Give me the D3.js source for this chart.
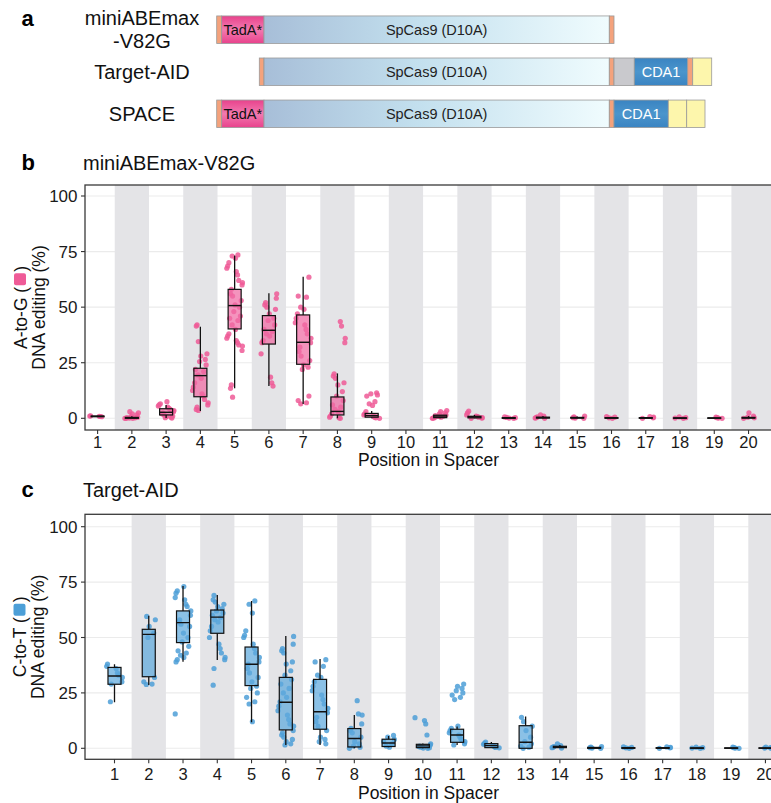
<!DOCTYPE html>
<html><head><meta charset="utf-8">
<script src="https://cdn.jsdelivr.net/npm/d3@7"></script>
<style>
body{margin:0;background:#fff}
svg{display:block}
text{font-family:"Liberation Sans",Arial,Helvetica,sans-serif}
</style>
</head><body>
<svg id="chart" width="771" height="803"></svg>
<script>
// ---------------- DATA ----------------
const positions = d3.range(1, 21);
const yTickValues = [0, 25, 50, 75, 100];
const xTickLabels = positions.map(String);

// panel a: constructs and domain segments [type, label, length]
const constructNames = ["miniABEmax\n-V82G", "Target-AID", "SPACE"];
const constructSegments = [
  [["nls","",5],["tada","TadA*",42.3],["cas9","SpCas9 (D10A)",345.3],["nls","",4.7]],
  [["none","",42.6],["nls","",4.7],["cas9","SpCas9 (D10A)",345.3],["nls","",4.7],["linker","",20.3],["cda1","CDA1",53.4],["nls","",5],["ugi","",19]],
  [["nls","",5],["tada","TadA*",42.3],["cas9","SpCas9 (D10A)",345.3],["nls","",4.7],["cda1","CDA1",54.3],["ugi","",18.4],["ugi","",18.3]]
];

// panel b: A-to-G editing, miniABEmax-V82G
const abePoints = [
  [1.1,1.0,0.9,0.8,0.7],
  [3.0,2.5,2.0,1.5,0.8,0.5,0.3,0.2,0.1,0,0,0],
  [7.5,6.5,6,5.5,5,4.5,4,3.5,3,2.5,2,1.5,1,0.8,0.5,0.3,0.1],
  [42,41.5,34.5,29,28,26.5,25.5,24,22,21,19.5,18,16,14,12.5,11,10,8.5,7,6,5,4,3.5],
  [73.5,73,72,70,68.5,67.5,66,64.5,62,61,60,58,56,55,53,51,50,48,46,45,44,42,40,38,37,36,35,34,33,32.5,30.5,15,13.5,9.5],
  [56,54,52,51,50,49,47,45,44,42,40,39,38,37,35,34,29,18.5,16,14.5],
  [63.5,55,54.5,50,49,47,45,43,42,40,38,36,34,32,30,28,26,24,23,22,10,8,7,6.5],
  [43.5,41.5,36,34,20,19,18,16,15,12,10,8,6,5,4,3,2,1,0.5,0.2,0],
  [11.5,11,10.5,10,7.5,6.5,5.8,3,2,1.5,1,0.5,0.2,0],
  [],
  [3.5,3,2.5,2,1.5,1.2,1,0.8,0.5,0.3,0.1,0],
  [3.2,2.4,1.5,1,0.8,0.5,0.3,0.1,0],
  [0.6,0.4,0.3,0.1,0],
  [1.5,1,0.6,0.3,0.1,0],
  [1.0,0.6,0.3,0.1,0],
  [0.8,0.5,0.2,0],
  [0.8,0.5,0.2,0],
  [0.6,0.3,0.1,0],
  [0.5,0.3,0.1,0],
  [2.5,1.0,0.5,0.2,0]
];
const abeQ1  = [0.7,0,  1.5,9.7, 40.2,33.4,24.3,1.5,0.5,null,0.3,0.2,0,  0.1,0.1,0,  0,  0,  0,  0.1];
const abeMed = [0.9,0.2,2.7,19.2,50.7,39.6,34.2,3.1,1.2,null,1.0,0.6,0.1,0.3,0.2,0.2,0.2,0.1,0.1,0.2];
const abeQ3  = [1.0,0.4,4.3,22.5,58.0,46.2,46.5,9.6,2.2,null,1.4,0.9,0.3,0.5,0.4,0.3,0.3,0.2,0.2,0.4];
const abeLo  = [0.7,0,  0.1,3.3, 13.5,14.5,6.4, 0,  0,  null,0,  0,  0,  0,  0,  0,  0,  0,  0,  0];
const abeHi  = [1.1,0.9,6.0,41.2,73.2,56.2,63.7,20.2,3.3,null,1.5,1.5,0.6,1.0,0.8,0.5,0.5,0.4,0.4,1.0];

// panel c: C-to-T editing, Target-AID
const aidPoints = [
  [38,37,36,34,33,32,30,29,21],
  [59.5,58,55,52,50,32,30,29,28.8],
  [73,71,70,68,67,65,64,62,60,58,57,56,55,52,50,48,46,44,43,42,41,40,39,15.5],
  [69,67,66,65,64,63,62,61,60,59,58,57,55,53,50,47,45,43,41,40,36,28.5],
  [66.5,65,61,53,51,50,47,45,43,41,39,38,36,34,32,30,28,27,25,23,21,20,12],
  [50.5,47,45,44,43,39,38,35,33,31,29,27,25,23,21,19,17,15,13,11,10,8,7,6,5,4,3,2,1.5],
  [40,39,37,33,32,30,28,26,24,22,20,18,16,14,12,10,8,5,4,3,2],
  [21.5,15.5,15,11,9,8,7,5,3,2,1,0.5,0],
  [5.8,5,4,3,2,1,0.5],
  [13.8,12.5,11,6,2,1.5,1,0.8,0.5,0.3,0.1,0],
  [29,28,27,26,25,24,23,22,10,9,8,7,6,5,4,3,2,1.5],
  [2.8,2.2,1.8,1.2,0.8,0.4,0.2],
  [14,12,10,8,5,3,2,1,0.5,0],
  [2,1.2,0.8,0.5,0.3,0.1],
  [0.8,0.5,0.3,0.1,0],
  [0.6,0.4,0.2,0],
  [0.6,0.4,0.2,0],
  [0.5,0.3,0.1,0],
  [0.5,0.3,0.1,0],
  [0.5,0.3,0.1,0]
];
const aidQ1  = [28.9,32.3,47.7,51.9,28.3,8.3, 8.6, 0.6,0.8,0.3,2.7,0.3,0,   0.3,0,  0,  0,  0,  0,  0];
const aidMed = [32.6,51.4,56.7,59.2,37.9,20.8,16.5,4.4,2.4,1.1,6.0,1.2,2.7, 0.6,0.2,0.1,0.1,0.1,0.1,0.1];
const aidQ3  = [36.5,53.7,62.0,62.4,45.7,32.0,31.1,8.9,4.1,1.8,8.6,2.1,10.2,0.9,0.4,0.3,0.3,0.2,0.2,0.2];
const aidLo  = [20.8,28.6,39.1,39.8,11.7,1.5, 1.5, 0,  0.5,0,  1.5,0.2,0,   0.1,0,  0,  0,  0,  0,  0];
const aidHi  = [37.9,59.8,73.2,69.2,66.5,50.7,40.3,15.0,5.5,2.2,9.8,2.8,14.3,1.5,0.6,0.5,0.5,0.4,0.4,0.4];

// ---------------- STYLE ----------------
const FONT = '"Liberation Sans",Arial,Helvetica,sans-serif';
const svg = d3.select("#chart");
const defs = svg.append("defs");

// gradients for panel a
const gCas = defs.append("linearGradient").attr("id","gcas").attr("x1","0").attr("x2","1").attr("y1","0").attr("y2","0");
gCas.append("stop").attr("offset","0").attr("stop-color","#a7bed8");
gCas.append("stop").attr("offset","0.45").attr("stop-color","#c3e0ee");
gCas.append("stop").attr("offset","1").attr("stop-color","#f0fcfe");
const gTad = defs.append("linearGradient").attr("id","gtad").attr("x1","0").attr("x2","0").attr("y1","0").attr("y2","1");
gTad.append("stop").attr("offset","0").attr("stop-color","#e8428c");
gTad.append("stop").attr("offset","0.5").attr("stop-color","#f27ab0");
gTad.append("stop").attr("offset","1").attr("stop-color","#e8428c");
const gCda = defs.append("linearGradient").attr("id","gcda").attr("x1","0").attr("x2","0").attr("y1","0").attr("y2","1");
gCda.append("stop").attr("offset","0").attr("stop-color","#3a84c2");
gCda.append("stop").attr("offset","0.5").attr("stop-color","#4b95cc");
gCda.append("stop").attr("offset","1").attr("stop-color","#3a84c2");

const segFill = {nls:"#f4a27c", tada:"url(#gtad)", cas9:"url(#gcas)", linker:"#c9c9cd", cda1:"url(#gcda)", ugi:"#fdf6ac"};
const segText = {tada:"#111", cas9:"#222", cda1:"#fff"};

// ---------------- PANEL A ----------------
const segX = d3.scaleLinear().domain([0, 500]).range([216.7, 716.7]);
const rowY = d3.scalePoint().domain(constructNames).range([29.7, 113.8]);
const barH = 27.5;

svg.append("text").attr("x",21.5).attr("y",26).attr("font-size",22).attr("font-weight","bold").attr("font-family",FONT).text("a");

constructNames.forEach((name, i) => {
  const cy = rowY(name);
  const lines = name.split("\n");
  const lab = svg.append("text").attr("text-anchor","middle").attr("font-size",20).attr("fill","#111").attr("font-family",FONT);
  if (lines.length === 1) {
    lab.attr("x",142).attr("y",cy + 7).text(lines[0]);
  } else {
    lab.append("tspan").attr("x",142).attr("y",cy - 4.7).text(lines[0]);
    lab.append("tspan").attr("x",142).attr("y",cy + 18.6).text(lines[1]);
  }
  let acc = 0;
  const g = svg.append("g");
  constructSegments[i].forEach(seg => {
    const [type, label, len] = seg;
    const x0 = segX(acc), x1 = segX(acc + len);
    acc += len;
    if (type === "none") return;
    g.append("rect").attr("x",x0).attr("y",cy - barH/2).attr("width",x1 - x0).attr("height",barH)
      .attr("fill",segFill[type]).attr("stroke","#9a9a9a").attr("stroke-width",0.8);
    if (label) {
      g.append("text").attr("x",(x0 + x1)/2).attr("y",cy + 5.2).attr("text-anchor","middle")
        .attr("font-size",14.5).attr("fill",segText[type]).attr("font-family",FONT).text(label);
    }
  });
});

// ---------------- BOX PANELS ----------------
const jitterPattern = [-0.85,0.35,0.9,-0.25,0.6,-0.6,0.1,-0.95,0.5,-0.4,0.8,-0.1,0.4,-0.7,0.2,0.95,-0.5,0.05,0.7,-0.3];

function drawPanel(cfg) {
  const left = 85, right = 790;
  const top = cfg.top, bottom = cfg.bottom;
  const x = d3.scaleLinear().domain([1, 20]).range([cfg.pos1, cfg.pos1 + 19 * 34.26]);
  const y = d3.scaleLinear().domain([0, 100]).range([cfg.y0, cfg.y100]);
  const unit = x(2) - x(1);
  const clipId = "clip" + cfg.id;
  defs.append("clipPath").attr("id", clipId).append("rect")
    .attr("x",left).attr("y",top).attr("width",right - left).attr("height",bottom - top);

  // title
  svg.append("text").attr("x",21.5).attr("y",cfg.titleY).attr("font-size",22).attr("font-weight","bold").attr("font-family",FONT).text(cfg.letter);
  svg.append("text").attr("x",83).attr("y",cfg.titleY).attr("font-size",20).attr("fill","#111").attr("font-family",FONT).text(cfg.title);

  const pg = svg.append("g").attr("clip-path",`url(#${clipId})`);
  pg.append("rect").attr("x",left).attr("y",top).attr("width",right-left).attr("height",bottom-top).attr("fill","#fff");
  // grid
  pg.selectAll("line.grid").data(yTickValues).enter().append("line")
    .attr("x1",left).attr("x2",right).attr("y1",d=>y(d)).attr("y2",d=>y(d))
    .attr("stroke","#ebebeb").attr("stroke-width",1.1);
  // stripes
  pg.selectAll("rect.band").data(positions.filter(p => p % 2 === 0)).enter().append("rect")
    .attr("x",d=>x(d - 0.5))
    .attr("width",d=> d === 20 ? right - x(d - 0.5) : x(d + 0.5) - x(d - 0.5))
    .attr("y",top).attr("height",bottom - top).attr("fill","#e4e4e7");

  // points
  positions.forEach((p, i) => {
    pg.selectAll(null).data(cfg.points[i]).enter().append("circle")
      .attr("cx",(d,j) => x(p + jitterPattern[(j * 7 + i * 3) % jitterPattern.length] * 0.24))
      .attr("cy",d => y(d)).attr("r",2.6)
      .attr("fill",cfg.pointColor).attr("fill-opacity",0.85);
  });
  // boxes
  const bw = 0.38 * unit;
  positions.forEach((p, i) => {
    if (cfg.q1[i] === null) return;
    const cx = x(p);
    pg.append("line").attr("x1",cx).attr("x2",cx).attr("y1",y(cfg.q3[i])).attr("y2",y(cfg.hi[i])).attr("stroke","#111").attr("stroke-width",1.3);
    pg.append("line").attr("x1",cx).attr("x2",cx).attr("y1",y(cfg.q1[i])).attr("y2",y(cfg.lo[i])).attr("stroke","#111").attr("stroke-width",1.3);
    pg.append("rect").attr("x",cx - bw/2).attr("width",bw)
      .attr("y",y(cfg.q3[i])).attr("height",Math.max(0.01, y(cfg.q1[i]) - y(cfg.q3[i])))
      .attr("fill",cfg.boxColor).attr("fill-opacity",0.72).attr("stroke","#111").attr("stroke-width",1.2);
    pg.append("line").attr("x1",cx - bw/2).attr("x2",cx + bw/2).attr("y1",y(cfg.med[i])).attr("y2",y(cfg.med[i])).attr("stroke","#111").attr("stroke-width",1.4);
  });

  // border
  svg.append("rect").attr("x",left).attr("y",top).attr("width",right - left).attr("height",bottom - top)
    .attr("fill","none").attr("stroke","#3a3a3a").attr("stroke-width",1.3);

  // y axis
  yTickValues.forEach(v => {
    svg.append("line").attr("x1",81).attr("x2",left).attr("y1",y(v)).attr("y2",y(v)).attr("stroke","#333").attr("stroke-width",1.1);
    svg.append("text").attr("x",77.5).attr("y",y(v) + 6.1).attr("text-anchor","end").attr("font-size",17).attr("fill","#1a1a1a").attr("font-family",FONT).text(v);
  });
  // x axis
  positions.forEach((p, i) => {
    svg.append("line").attr("x1",x(p)).attr("x2",x(p)).attr("y1",bottom).attr("y2",bottom + 4).attr("stroke","#333").attr("stroke-width",1.1);
    svg.append("text").attr("x",x(p)).attr("y",bottom + cfg.tickDy).attr("text-anchor","middle").attr("font-size",16.5).attr("fill","#1a1a1a").attr("font-family",FONT).text(xTickLabels[i]);
  });
  svg.append("text").attr("x",428.5).attr("y",cfg.xTitleY).attr("text-anchor","middle").attr("font-size",17.5).attr("fill","#111").attr("font-family",FONT).text("Position in Spacer");

  // y title (rotated, two lines)
  const cy = (top + bottom) / 2;
  const yt = svg.append("g").attr("transform",`translate(0,${cy}) rotate(-90)`);
  const t1 = yt.append("text").attr("y",cfg.yTitle1).attr("font-size",17.5).attr("fill","#111").attr("font-family",FONT).text(cfg.yLabel + " (");
  const t2 = yt.append("text").attr("y",cfg.yTitle1).attr("font-size",17.5).attr("fill","#111").attr("font-family",FONT).text(")");
  const w1 = t1.node().getComputedTextLength(), w2 = t2.node().getComputedTextLength();
  const sq = 12, gap = 1.5;
  const total = w1 + gap + sq + gap + w2;
  const sx = -total / 2;
  t1.attr("x", sx);
  yt.append("rect").attr("x", sx + w1 + gap).attr("y", cfg.yTitle1 - 12.5).attr("width", sq).attr("height", 12)
    .attr("rx",2).attr("fill", cfg.pointColor);
  t2.attr("x", sx + w1 + gap + sq + gap);
  yt.append("text").attr("y",cfg.yTitle1 + 18).attr("text-anchor","middle").attr("font-size",17.5).attr("fill","#111").attr("font-family",FONT).text("DNA editing (%)");
}

drawPanel({
  id:"b", letter:"b", title:"miniABEmax-V82G", titleY:170,
  top:185, bottom:430, y0:418.3, y100:196, pos1:97.6,
  points:abePoints, q1:abeQ1, med:abeMed, q3:abeQ3, lo:abeLo, hi:abeHi,
  pointColor:"#ef5b97", boxColor:"#f06aa3",
  yLabel:"A-to-G", yTitle1:26.5, tickDy:18, xTitleY:466.3
});
drawPanel({
  id:"c", letter:"c", title:"Target-AID", titleY:496.7,
  top:514.3, bottom:759.3, y0:748.3, y100:526.7, pos1:114.5,
  points:aidPoints, q1:aidQ1, med:aidMed, q3:aidQ3, lo:aidLo, hi:aidHi,
  pointColor:"#4d9fd7", boxColor:"#5ea9dd",
  yLabel:"C-to-T", yTitle1:26, tickDy:20.3, xTitleY:798.5
});
</script>
</body></html>
